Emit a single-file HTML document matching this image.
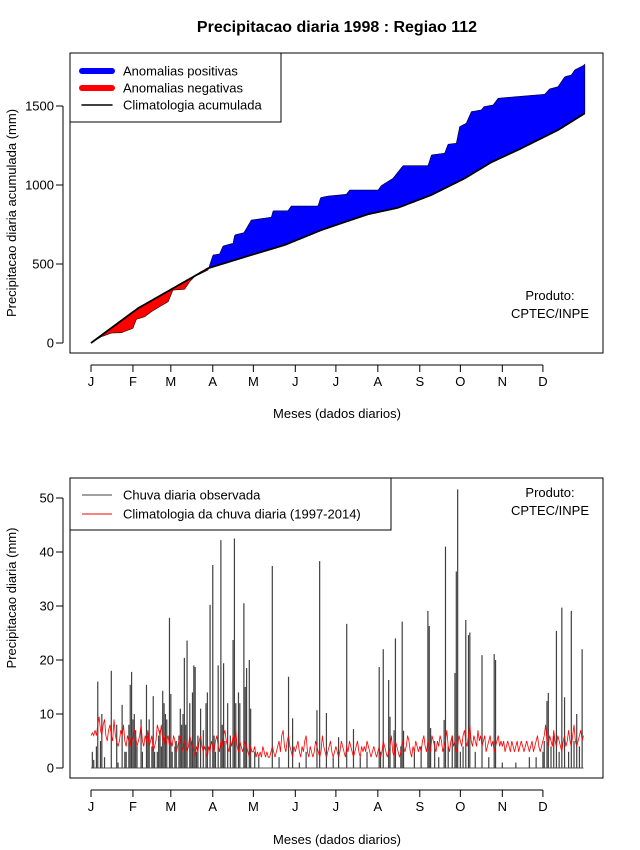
<!DOCTYPE html>
<html><head><meta charset="utf-8"><style>
html,body{margin:0;padding:0;background:#fff;}
svg{display:block;font-family:"Liberation Sans",sans-serif;}
</style></head><body>
<svg id="chart" width="640" height="850" viewBox="0 0 640 850" xmlns="http://www.w3.org/2000/svg">
<text x="337" y="32" text-anchor="middle" font-size="16" font-weight="bold">Precipitacao diaria 1998 : Regiao 112</text>
<g id="top"></g>
<g id="bot"></g>
</svg>
<script>
// ---- top panel data (cumulative, mm) ----
const obsCumDays = [0,7.7,15,22.4,31,33.5,39.7,44.6,50.7,57,60.6,69.2,72.9,76.6,86.5,90.2,95,97.6,105,106.2,113,118.5,133.3,134.6,145.6,148,167.8,169.7,175.2,188.7,191.2,212.2,214.6,223.2,230.6,249.1,251.6,261.4,263.9,270,272.5,277.4,281.1,288.5,290.5,297.2,300.9,314.4,335.3,339,345.2,350.1,355,357.5,363.7,365];
const obsCumValues = [0,40,63,65,93,150,166,198,230,261,335,340,388,420,462,557,563,614,631,684,698,778,796,837,837,867,867,920,930,941,968,968,996,1042,1122,1122,1190,1201,1258,1264,1369,1391,1464,1475,1496,1506,1549,1559,1574,1608,1622,1685,1696,1728,1755,1764];
const climCumDays = [0,34.8,76.6,86.5,118.5,143.1,170.3,185,204.8,226.9,251.6,276.2,295.9,315.6,345.2,365];
const climCumValues = [0,220,424,473,557,620,715,758,815,856,937,1042,1144,1222,1348,1454];
const topYTicks = [0,500,1000,1500];
const monthLabels = ["J","F","M","A","M","J","J","A","S","O","N","D"];
const monthStartDays = [1,32,60,91,121,152,182,213,244,274,305,335];
// ---- bottom panel data (daily, mm) ----
const obsDays = [6,16,24,31,30,42,47,54,59,60,70,72,77,78,82,89,91,97,99,106,107,114,116,118,119,135,147,150,170,168,175,184,190,195,214,217,221,222,226,225,231,232,250,251,252,263,262,270,271,272,278,280,281,290,299,300,339,338,345,349,351,356,360,364,
 2,3,5,8,9,11,20,21,26,27,29,32,33,34,35,38,39,43,44,46,48,50,51,52,53,55,56,57,61,63,64,66,67,68,69,71,74,75,76,79,80,84,86,87,92,93,95,98,100,102,104,108,110,111,115,122,125,140,155,160,180,200,205,215,230,240,245,255,258,265,268,274,276,285,295,305,315,325,330,335,336,341,343,347,354,358,362];
const obsValues = [16,18,11.7,17.8,15.4,15.4,13.3,14.3,27.8,13.7,20.4,23.6,19,18.7,11,30.2,37.6,42.2,19.4,23.7,42.5,30.5,18.5,20,11,37.4,16.9,9.2,38.3,10.7,10.2,5.7,26.7,7.2,18.7,22,16.3,9.5,24,7,27.1,6.9,29.1,26.3,7.4,41,8.9,17.6,36.4,51.6,27.4,24.6,25.1,20.9,21.1,20,13.9,12.4,25.4,29.7,13.1,29.1,10,22,
 3,1.5,4,5,10,2,8,1,3,3,8,9,10,7,4,9,3,6,9,4,3,3,6,7,4,12,10,9,3,4,5,6,11,8,10,8,12,5,14,3,6,7,12,14,6,3,19,8,5,12,6,12,14,12,15,3,2,2,1,3,2,2,3,3,4,3,4,5,2,4,6,3,4,3,2,1,1,2,2,3,5,4,6,3,3,5,4];
const climDaily = [
6,6.5,6,7,6,8,9.5,7,6,8,9,6,5,7,8,6,5,9,6,5,4,5,7,6,8,5,4,6,5,4,6,
5,7,6,4,5,6,8,5,4,6,5,7,4,5,6,3,4,5,8,7,6,8,5,6,4,5,6,4,
5,4,6,5,3,4,5,6,4,3,5,4,3,4,6,5,4,3,2,4,3,5,6,4,3,4,3,2,4,3,5,
4,3,5,6,4,3,5,4,6,7,5,4,3,5,4,6,5,7,4,3,5,4,3,4,5,4,3,2,4,3,
3,4,2,3,2,3,2,4,3,2,3,2,2,3,4,3,2,3,4,5,3,6,7,4,3,5,6,4,3,2,4,
3,4,5,3,2,4,3,5,6,3,2,4,3,2,3,5,4,3,2,3,6,4,3,2,3,4,5,3,2,3,
4,3,2,3,5,4,3,2,4,3,5,4,3,2,3,4,5,3,2,4,3,4,3,5,4,3,2,3,4,3,2,
3,4,2,3,5,4,3,2,3,4,6,3,2,5,4,3,2,3,5,4,3,4,6,5,3,2,4,3,5,4,3,
4,3,5,6,4,3,5,4,3,6,5,4,3,5,4,6,5,3,4,5,7,4,3,5,6,4,5,3,4,6,
5,4,6,7,5,4,6,8,5,4,6,5,4,7,5,6,4,5,6,3,4,5,6,4,5,3,4,5,6,4,5,
4,5,3,4,5,4,3,5,4,3,4,5,3,4,5,4,3,4,5,4,3,4,5,3,4,5,6,4,3,4,
5,6,8,5,4,6,5,4,7,5,4,6,5,4,3,5,6,4,5,7,5,4,6,8,5,4,5,6,7,5,6];
const botYTicks = [0,10,20,30,40,50];

const NS="http://www.w3.org/2000/svg";
function mk(parent,tag,attrs,text){const e=document.createElementNS(NS,tag);for(const k in attrs)e.setAttribute(k,attrs[k]);if(text!==undefined)e.textContent=text;parent.appendChild(e);return e;}
const xDay = d => 91 + (d-1)*1.353;
const yTop = v => 343 - v*0.158;
const yBot = v => 768 - v*5.4;
function interp(xs,ys,x){if(x<=xs[0])return ys[0];for(let i=1;i<xs.length;i++){if(x<=xs[i]){const t=(x-xs[i-1])/(xs[i]-xs[i-1]);return ys[i-1]+t*(ys[i]-ys[i-1]);}}return ys[ys.length-1];}

function axes(g,top,yScale,yTicks,yTitle,yTitleY,axisY,xTitleY){
  const f=mk(g,'rect',{x:70,y:top,width:533,height:300,fill:'none',stroke:'#000','stroke-width':1});
  
  
  const ya=mk(g,'line',{x1:63,x2:63,y1:yScale(yTicks[0]),y2:yScale(yTicks[yTicks.length-1]),stroke:'#000'});
  
  
  yTicks.forEach(v=>{
    mk(g,'line',{x1:56,x2:63,y1:yScale(v),y2:yScale(v),stroke:'#000'});
    const t=mk(g,'text',{x:54,y:yScale(v)+4.5,'text-anchor':'end','font-size':13},String(v));
    
    
  });
  const xa=mk(g,'line',{x1:xDay(monthStartDays[0]),x2:xDay(monthStartDays[11]),y1:axisY,y2:axisY,stroke:'#000'});
  
  
  monthStartDays.forEach((d,i)=>{
    mk(g,'line',{x1:xDay(d),x2:xDay(d),y1:axisY,y2:axisY+7,stroke:'#000'});
    const t=mk(g,'text',{x:xDay(d),y:axisY+21,'text-anchor':'middle','font-size':13},monthLabels[i]);
    
    
  });
  const xt=mk(g,'text',{x:337,y:xTitleY,'text-anchor':'middle','font-size':13},'Meses (dados diarios)');
  
  
  const yt=mk(g,'text',{x:16,y:yTitleY,'text-anchor':'middle','font-size':13,transform:`rotate(-90 16 ${yTitleY})`},yTitle);
  
  
}

// ---- TOP ----
const gt=document.getElementById('top');
axes(gt,53,yTop,topYTicks,'Precipitacao diaria acumulada (mm)',213,365,418);
const obsD=[],climD=[];
for(let d=0; d<=365; d+=0.5){obsD.push(interp(obsCumDays,obsCumValues,d));climD.push(interp(climCumDays,climCumValues,d));}
let up=[],lowB=[],upR=[],lowR=[];
for(let i=0;i<obsD.length;i++){const d=i*0.5;const x=xDay(d+1);
  up.push(`${x},${yTop(Math.max(obsD[i],climD[i]))}`);lowB.push(`${x},${yTop(climD[i])}`);
  lowR.push(`${x},${yTop(Math.min(obsD[i],climD[i]))}`);}
const pb=mk(gt,'polygon',{points:up.concat(lowB.slice().reverse()).join(' '),fill:'#0000ff',stroke:'#000022','stroke-width':0.6});


const pr=mk(gt,'polygon',{points:lowB.concat(lowR.slice().reverse()).join(' '),fill:'#ff0000',stroke:'#220000','stroke-width':0.6});


const cl=mk(gt,'polyline',{points:lowB.join(' '),fill:'none',stroke:'#000','stroke-width':1.8});


// legend
const lg=mk(gt,'g',{});


mk(lg,'rect',{x:70,y:53,width:211,height:69,fill:'#fff',stroke:'#000'});
[['#0000ff',6,'Anomalias positivas'],['#ff0000',6,'Anomalias negativas'],['#000',1.5,'Climatologia acumulada']].forEach((e,i)=>{
  const y=71+i*17;
  const it=mk(lg,'g',{});
  
  
  mk(it,'line',{x1:82,x2:112,y1:y,y2:y,stroke:e[0],'stroke-width':e[1],'stroke-linecap':'round'});
  mk(it,'text',{x:123,y:y+4.5,'font-size':13},e[2]);
});
const p1=mk(gt,'text',{x:550,y:300,'text-anchor':'middle','font-size':13},'Produto:');


const p2=mk(gt,'text',{x:550,y:318,'text-anchor':'middle','font-size':13},'CPTEC/INPE');



// ---- BOTTOM ----
const gb=document.getElementById('bot');
axes(gb,478,yBot,botYTicks,'Precipitacao diaria (mm)',598,790,844);
const base=mk(gb,'line',{x1:xDay(1),x2:xDay(365),y1:yBot(0),y2:yBot(0),stroke:'#555','stroke-width':1});


obsDays.forEach((d,i)=>{
  const b=mk(gb,'line',{x1:xDay(d),x2:xDay(d),y1:yBot(0),y2:yBot(obsValues[i]),stroke:'#404040','stroke-width':1.2});
  
  
});
const cp=climDaily.map((v,i)=>`${xDay(i+1)},${yBot(v)}`).join(' ');
const cd=mk(gb,'polyline',{points:cp,fill:'none',stroke:'#ff0000','stroke-width':0.8});


const lg2=mk(gb,'g',{});


mk(lg2,'rect',{x:70,y:478,width:321,height:52,fill:'#fff',stroke:'#000'});
[['#404040','Chuva diaria observada'],['#ff0000','Climatologia da chuva diaria (1997-2014)']].forEach((e,i)=>{
  const y=495+i*19;
  const it=mk(lg2,'g',{});
  
  
  mk(it,'line',{x1:82,x2:112,y1:y,y2:y,stroke:e[0],'stroke-width':1});
  mk(it,'text',{x:123,y:y+4.5,'font-size':13},e[1]);
});
const q1=mk(gb,'text',{x:550,y:497,'text-anchor':'middle','font-size':13},'Produto:');


const q2=mk(gb,'text',{x:550,y:515,'text-anchor':'middle','font-size':13},'CPTEC/INPE');


</script>
</body></html>
